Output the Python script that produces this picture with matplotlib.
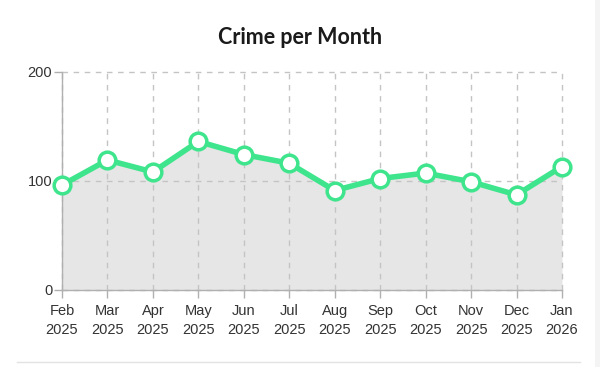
import matplotlib
matplotlib.use("Agg")
import matplotlib.pyplot as plt
from matplotlib.patches import Rectangle
from matplotlib.lines import Line2D

months = ["Feb\n2025", "Mar\n2025", "Apr\n2025", "May\n2025", "Jun\n2025", "Jul\n2025",
          "Aug\n2025", "Sep\n2025", "Oct\n2025", "Nov\n2025", "Dec\n2025", "Jan\n2026"]
crimes = [96, 119, 108, 136, 124, 116, 91, 102, 107, 99, 87, 113]
yticks = [0, 100, 200]

green = "#3ee58c"
fig = plt.figure(figsize=(6, 3.67), dpi=100)
fig.patch.set_facecolor("white")

# page decorations
fig.add_artist(Rectangle((595/600, 0), 5/600, 1, transform=fig.transFigure,
                         facecolor="#f4f4f4", edgecolor="none"))
fig.add_artist(Line2D([17/600, 580/600], [1-362/367, 1-362/367], transform=fig.transFigure,
                      color="#e2e2e2", lw=1))

ax = fig.add_axes([62/600, 1-289.7/367, 500/600, 218/367])
x = list(range(len(crimes)))
ax.fill_between(x, crimes, 0, color="#e6e6e6", zorder=1, lw=0)
ax.plot(x, crimes, color=green, lw=4, zorder=4, solid_joinstyle="round",
        marker="o", markersize=12, markerfacecolor="white", markeredgecolor=green,
        markeredgewidth=2.5, clip_on=False)

ax.set_xlim(0, len(crimes)-1)
ax.set_ylim(0, 200)
ax.set_yticks(yticks)
ax.set_xticks(x)
ax.set_xticklabels(months, linespacing=1.5)
ax.set_axisbelow(False)
ax.grid(True, color="#c4c4c4", linestyle=(0, (4, 4)), lw=1, zorder=2)
for gl in ax.get_xgridlines() + ax.get_ygridlines():
    gl.set_clip_on(False)
for s in ["top", "right"]:
    ax.spines[s].set_visible(False)
for s in ["left", "bottom"]:
    ax.spines[s].set_color("#b0b0b0")
    ax.spines[s].set_linewidth(1)
    ax.spines[s].set_zorder(3)
ax.tick_params(axis="both", colors="#b0b0b0", length=6, width=1,
               labelcolor="#333333", labelsize=10.5)
for lab in ax.get_xticklabels() + ax.get_yticklabels():
    lab.set_family(["Liberation Sans", "DejaVu Sans"])
ax.tick_params(axis="x", pad=4)
ax.tick_params(axis="y", pad=1)

fig.text(300/600, 1-38/367, "Crime per Month", ha="center", va="center",
         fontsize=15.5, fontweight="bold", family=["Lato", "DejaVu Sans"], color="#1a1a1a")

fig.savefig("out.png", dpi=100)
